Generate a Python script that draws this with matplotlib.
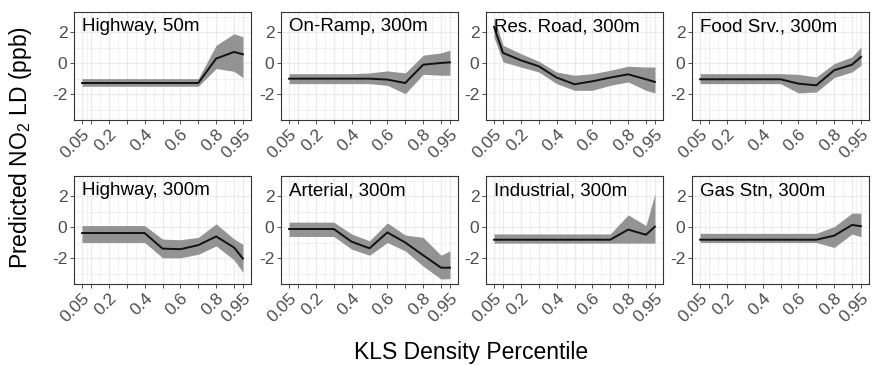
import matplotlib
matplotlib.use("Agg")
import matplotlib.pyplot as plt
import numpy as np

plt.rcParams['font.family'] = ['Liberation Sans', 'DejaVu Sans']
plt.rcParams['mathtext.fontset'] = 'custom'
plt.rcParams['mathtext.rm'] = 'Liberation Sans'
plt.rcParams['mathtext.default'] = 'regular'

# ---------------- data ----------------
x_vals = [0.05, 0.1, 0.2, 0.3, 0.4, 0.5, 0.6, 0.7, 0.8, 0.9, 0.95]
x_tick_labels = ['0.05', '', '0.2', '', '0.4', '', '0.6', '', '0.8', '', '0.95']
y_ticks = [-2, 0, 2]

titles = ['Highway, 50m', 'On-Ramp, 300m', 'Res. Road, 300m', 'Food Srv., 300m',
          'Highway, 300m', 'Arterial, 300m', 'Industrial, 300m', 'Gas Stn, 300m']

hw50_mean = [-1.27, -1.27, -1.27, -1.27, -1.27, -1.27, -1.27, -1.27, 0.30, 0.73, 0.58]
hw50_lo = [-1.48, -1.48, -1.48, -1.48, -1.48, -1.48, -1.48, -1.48, -0.34, -0.52, -0.92]
hw50_hi = [-0.99, -0.99, -0.99, -0.99, -0.99, -0.99, -0.99, -0.99, 1.16, 1.90, 1.70]

ramp_mean = [-0.99, -0.99, -0.99, -0.99, -0.99, -0.99, -1.05, -1.27, -0.09, 0.02, 0.06]
ramp_lo = [-1.31, -1.31, -1.31, -1.31, -1.31, -1.31, -1.42, -1.96, -0.71, -0.77, -0.77]
ramp_hi = [-0.67, -0.67, -0.67, -0.67, -0.67, -0.62, -0.49, -0.62, 0.52, 0.67, 0.84]

res_mean = [2.34, 0.67, 0.19, -0.19, -0.92, -1.35, -1.16, -0.92, -0.71, -1.03, -1.20]
res_lo = [1.66, 0.09, -0.24, -0.56, -1.31, -1.74, -1.74, -1.42, -1.20, -1.74, -1.91]
res_hi = [2.98, 1.16, 0.62, 0.13, -0.56, -0.77, -0.67, -0.45, -0.19, -0.24, -0.24]

food_mean = [-1.03, -1.03, -1.03, -1.03, -1.03, -1.03, -1.31, -1.42, -0.45, -0.09, 0.41]
food_lo = [-1.31, -1.31, -1.31, -1.31, -1.31, -1.31, -1.91, -1.85, -0.92, -0.56, -0.13]
food_hi = [-0.67, -0.67, -0.67, -0.67, -0.67, -0.67, -0.71, -0.88, -0.02, 0.41, 1.05]

hw300_mean = [-0.37, -0.37, -0.37, -0.37, -0.37, -1.37, -1.41, -1.15, -0.59, -1.30, -2.02]
hw300_lo = [-0.98, -0.98, -0.98, -0.98, -0.98, -1.96, -1.96, -1.74, -1.20, -2.10, -2.90]
hw300_hi = [0.11, 0.11, 0.11, 0.11, 0.11, -0.76, -0.80, -0.65, 0.22, -0.75, -1.10]

art_mean = [-0.11, -0.11, -0.11, -0.11, -0.93, -1.35, -0.33, -0.98, -1.80, -2.60, -2.60]
art_lo = [-0.59, -0.59, -0.59, -0.59, -1.41, -1.80, -0.98, -1.52, -2.50, -3.33, -3.30]
art_hi = [0.33, 0.33, 0.33, 0.33, -0.43, -0.87, 0.28, -0.50, -0.65, -1.80, -1.52]

ind_mean = [-0.80, -0.80, -0.80, -0.80, -0.80, -0.80, -0.80, -0.80, -0.15, -0.48, 0.04]
ind_lo = [-1.02, -1.02, -1.02, -1.02, -1.02, -1.02, -1.02, -1.02, -1.02, -1.02, -1.02]
ind_hi = [-0.43, -0.43, -0.43, -0.43, -0.43, -0.43, -0.43, -0.43, 0.80, 0.11, 2.17]

gas_mean = [-0.80, -0.80, -0.80, -0.80, -0.80, -0.80, -0.80, -0.80, -0.54, 0.15, 0.07]
gas_lo = [-0.98, -0.98, -0.98, -0.98, -0.98, -0.98, -0.98, -0.98, -1.30, -0.43, -0.61]
gas_hi = [-0.39, -0.39, -0.39, -0.39, -0.39, -0.39, -0.39, -0.39, 0.04, 0.91, 0.91]

series = [
    (hw50_mean, hw50_lo, hw50_hi),
    (ramp_mean, ramp_lo, ramp_hi),
    (res_mean, res_lo, res_hi),
    (food_mean, food_lo, food_hi),
    (hw300_mean, hw300_lo, hw300_hi),
    (art_mean, art_lo, art_hi),
    (ind_mean, ind_lo, ind_hi),
    (gas_mean, gas_lo, gas_hi),
]

# ---------------- layout ----------------
W, H = 872, 366
fig = plt.figure(figsize=(W / 100, H / 100), dpi=100)
lefts = [74, 281, 486, 692]
tops = [12, 176]
pw, ph = 177, 108

xmin, xmax = 0.005, 0.995
ymin, ymax = -3.65, 3.3
x_minor = [(a + b) / 2 for a, b in zip(x_vals[:-1], x_vals[1:])]
y_minor = [-3, -1, 1, 3]

for i, (title, (m, lo, hi)) in enumerate(zip(titles, series)):
    r, c = divmod(i, 4)
    ax = fig.add_axes([lefts[c] / W, 1 - (tops[r] + ph) / H, pw / W, ph / H])
    ax.set_xlim(xmin, xmax)
    ax.set_ylim(ymin, ymax)
    for xv in x_minor:
        ax.axvline(xv, color='#EBEBEB', lw=0.5, zorder=0)
    for yv in y_minor:
        ax.axhline(yv, color='#EBEBEB', lw=0.5, zorder=0)
    for xv in x_vals:
        ax.axvline(xv, color='#EBEBEB', lw=1.0, zorder=0)
    for yv in y_ticks:
        ax.axhline(yv, color='#EBEBEB', lw=1.0, zorder=0)
    ax.fill_between(x_vals, lo, hi, color='#939393', lw=0, zorder=2)
    ax.plot(x_vals, m, color='#111111', lw=1.4, zorder=3)
    ax.text(0.05, 2.35, title, ha='left', va='center', fontsize=13.5,
            color='black', zorder=4)
    ax.set_xticks(x_vals)
    ax.set_xticklabels(x_tick_labels, rotation=45, ha='right', va='top',
                       rotation_mode='anchor')
    ax.set_yticks(y_ticks)
    ax.set_yticklabels([str(v) for v in y_ticks])
    ax.tick_params(axis='both', length=2.8, width=0.6, color='#333333',
                   labelsize=12.5, labelcolor='#4D4D4D', pad=2)
    for s in ax.spines.values():
        s.set_color('#333333')
        s.set_linewidth(0.8)

fig.text(20 / W, 1 - 148 / H, 'Predicted NO$_2$ LD (ppb)', rotation=90,
         ha='center', va='center', fontsize=16.5)
fig.text(471 / W, 1 - 352 / H, 'KLS Density Percentile', ha='center',
         va='center', fontsize=16.5)

fig.savefig('out.png', dpi=100)
